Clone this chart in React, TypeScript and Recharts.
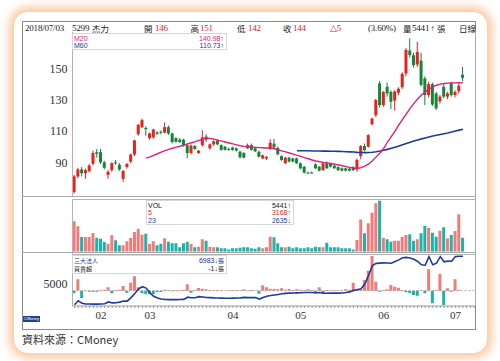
import React from "react"
import { ComposedChart, Bar, Line, XAxis, YAxis, Cell, ReferenceLine } from "recharts"

const RED = "#e3231f"
const GREEN = "#17843a"
const VOL_UP = "#f17b7b"
const VOL_DN = "#1eb2a8"
const M20_C = "#dc1f7c"
const M60_C = "#1d3b94"
const NAVY = "#1c3d9c"
const SERIF = "'Liberation Serif', 'DejaVu Serif', serif"
const CJK = "'Noto Sans CJK TC', 'Noto Sans', sans-serif"
const SANS = "'Liberation Sans', 'DejaVu Sans', sans-serif"

const monthTicks = [7, 20, 42, 60, 82, 101]
const monthLabels = ["02", "03", "04", "05", "06", "07"]
const priceTicks = [90, 110, 130, 150]
const holdTicks = [5000]

// daily candles, 2018/01/23 .. 2018/07/03
const opens = [71, 81, 85.5, 83, 84.5, 89, 96.5, 96.5, 90, 82,
  85, 90, 88.5, 79.5, 87, 90.5, 95, 108, 112.5, 112,
  105.5, 106, 109, 109.5, 109, 112.5, 108.5, 105.5, 104.5, 104.5,
  101, 96, 100.5, 96, 101, 106.5, 99, 101.5, 104, 101,
  100, 98.5, 99.5, 99, 96.8, 96, 101, 101, 99, 96.8,
  92.5, 92.5, 98.5, 102, 99.3, 94, 89.4, 93, 92.5, 92.5,
  89.4, 87.2, 83.5, 83.5, 88.7, 87.2, 85.1, 89.4, 89, 87.8,
  87, 86.2, 86.2, 86, 87, 85.5, 94, 100.4, 100, 114.4,
  120.2, 140.4, 126.6, 138.3, 135, 129.5, 134.5, 138, 146.8, 161.5,
  158.4, 152.5, 155, 143.6, 133, 140, 134, 129, 138.3, 132,
  140.4, 133, 135.5, 146]
const highs = [82, 86.5, 87, 86, 89, 97.5, 98.5, 98.5, 91, 85,
  90, 91.5, 89.5, 85, 89.5, 95.5, 104.5, 114.5, 118, 113,
  109, 111.5, 110, 110.5, 115.5, 113.5, 109, 106, 105.5, 105,
  102, 101.5, 101, 98, 110.5, 108, 102, 104, 104.5, 101.5,
  100.5, 99.5, 100, 99.5, 97.5, 96.5, 102, 102, 99.5, 97.5,
  95, 94, 104.7, 105, 100, 94.5, 93.5, 93.5, 93, 93,
  90, 87.8, 84, 84.2, 89.5, 87.8, 90, 90.5, 89.5, 88.3,
  87.5, 86.8, 86.6, 86.5, 87.5, 92.5, 101, 102, 108, 118.5,
  130.5, 142, 135.5, 141, 136, 136, 138, 147.5, 163, 169.2,
  160, 167, 160, 145, 141.5, 141, 135, 133, 140, 135,
  141.5, 136, 140.5, 151]
const lows = [70, 80, 81, 79.5, 83.5, 88, 93, 89, 85.5, 79.5,
  84, 88.5, 84.5, 77.5, 86, 89.5, 94, 107, 112, 107,
  104.5, 105, 107.5, 108, 108.5, 107.5, 102, 102.5, 102.5, 100,
  92.5, 95, 98, 95.5, 100, 103, 98, 100.5, 101, 97.5,
  97.5, 97.5, 97.5, 97, 92.5, 92.5, 98.5, 97.5, 96.5, 93,
  92, 91.5, 98, 99, 94.5, 91, 89, 90, 90, 89,
  85.5, 83, 82.5, 82.8, 85.8, 84.2, 84.5, 85.8, 86.8, 85.8,
  84.5, 84.2, 84.2, 84.3, 84.5, 84, 92, 97, 99.5, 113.5,
  119, 125, 125.5, 132, 124, 123, 133, 137, 145, 157,
  150.5, 151, 138.5, 126.6, 131.5, 126, 123.5, 127.5, 131, 130.5,
  132, 131.5, 134, 142]
const closes = [81, 85.5, 83, 85, 88, 96, 95.5, 90, 86.5, 84,
  89.5, 89.3, 85.5, 84.5, 89, 95, 104, 114, 117, 111.2,
  108.5, 111, 108.2, 109, 112.5, 108.5, 103, 103.2, 103, 100.7,
  96, 100.7, 98.5, 97.4, 106, 104.5, 101.5, 103.5, 101.5, 98,
  98, 98, 98, 97.5, 93.2, 93, 99, 98, 97, 93.6,
  94.5, 93.5, 102.5, 99.5, 95.1, 91.5, 93, 90.5, 90.5, 89.4,
  86.2, 83.4, 83, 83.2, 86.2, 84.7, 89.4, 86.2, 87.3, 86.2,
  85, 84.7, 84.7, 84.7, 85, 91.5, 100.4, 97.8, 107.4, 118,
  129.8, 126.6, 135, 134, 128.7, 135.3, 137, 146.6, 161.8, 158.6,
  152.2, 160.5, 139.5, 133, 140, 127, 124.5, 132, 132, 134,
  133, 135, 139, 144]

const m20 = [...Array(19).fill(null),
  92.7, 93.5, 94.5, 95.5, 96.6, 97.5, 98.3, 99, 99.7, 100.3,
  101, 101.8, 102.5, 103.2, 104, 104.8, 105.5, 105.3, 104.8, 104.2,
  103.6, 103, 102.4, 101.8, 101.2, 100.6, 100.2, 100, 99.8, 99.6,
  99.4, 99.3, 99.2, 99.3, 98.7, 98, 97.3, 96.7, 96, 95.3,
  94.5, 93.8, 93, 92.3, 91.5, 90.9, 90.4, 90, 89.7, 89.3,
  88.8, 88.3, 87.8, 87.3, 86.8, 86.4, 86.1, 86.6, 87.6, 89,
  91, 93.5, 96, 99, 103, 106.5, 110, 114, 117.5, 121,
  124.5, 127.7, 130.5, 133, 135, 136.8, 138.3, 139.3, 140, 140.4,
  140.6, 140.7, 140.8, 140.9, 140.98]
const m60 = [...Array(59).fill(null),
  97.4, 97.4, 97.4, 97.4, 97.3, 97.3, 97.3, 97.2, 97.2, 97.1,
  97.1, 97, 96.9, 96.8, 96.7, 96.6, 96.4, 96.3, 96.2, 96.3,
  96.5, 96.8, 97.2, 97.7, 98.3, 99, 99.7, 100.4, 101.2, 102,
  102.8, 103.6, 104.3, 105, 105.6, 106.2, 106.8, 107.3, 107.8, 108.3,
  108.8, 109.4, 110, 110.6, 111.2]

// volume (張)
const volumes = [11800, 9850, 5700, 5700, 5700, 7260, 5450, 5060, 3760, 3100,
  6350, 4410, 2460, 2460, 4020, 5310, 7650, 8950, 6610, 7000,
  3110, 4020, 2460, 3110, 5190, 3890, 3240, 3240, 1690, 3240,
  3890, 2980, 1690, 1950, 4800, 4280, 1950, 1690, 1690, 1300,
  1300, 900, 1300, 1300, 1560, 1690, 1690, 1300, 1170, 1690,
  1300, 1690, 5840, 5580, 3240, 1690, 1690, 1950, 1300, 1690,
  1300, 1300, 1690, 1300, 1950, 1690, 1690, 3500, 1690, 1690,
  1690, 1300, 1300, 1300, 900, 4540, 12570, 7130, 11020, 15170,
  18800, 19840, 5450, 4800, 3890, 4280, 4280, 5840, 6480, 6740,
  4280, 4800, 7130, 9990, 9340, 7390, 5840, 8170, 9470, 5190,
  6480, 8040, 14520, 5441]

// 三大法人 買賣超 (張) and holdings
const netBuy = [-80, 340, -220, 20, -30, -30, -30, 20, 30, 100,
  -80, 20, 30, 140, -60, 240, 430, 100, -80, -110,
  -110, -100, -50, -40, 30, 20, -20, 20, 10, 30,
  190, -60, 20, 80, 60, 40, 20, 10, 20, 10,
  0, 10, 20, 20, 10, 40, -20, 20, 10, -90,
  160, 100, 60, 50, 40, 70, 30, 50, 20, 40,
  30, 20, 40, 20, -60, 100, -80, 20, 10, 20,
  10, 20, 40, 30, 240, 60, 40, 320, 600, 1040,
  270, -30, 20, 40, 170, 120, 90, 20, -50, -80,
  -130, -150, 20, -80, 640, -380, 20, 500, -430, 70,
  -30, 340, 30, -1]
const holdings = [3430, 3720, 3530, 3480, 3480, 3470, 3470, 3480, 3500, 3630,
  3560, 3570, 3620, 3700, 3690, 3950, 4250, 4600, 4750, 4650,
  4300, 4050, 3920, 3850, 3820, 3800, 3800, 3800, 3810, 3820,
  3980, 3940, 3940, 4020, 3990, 3960, 3950, 3930, 3920, 3910,
  3900, 3900, 3910, 3920, 3930, 3970, 3950, 3960, 3950, 3840,
  3960, 4050, 4100, 4140, 4180, 4230, 4260, 4280, 4290, 4300,
  4310, 4320, 4330, 4320, 4290, 4320, 4270, 4270, 4280, 4280,
  4280, 4290, 4320, 4370, 4480, 4520, 4600, 4950, 5600, 6300,
  6460, 6480, 6500, 6490, 6470, 6600, 6720, 6880, 6900, 6860,
  6760, 6600, 6360, 6330, 6950, 6360, 6480, 6960, 6580, 6630,
  6620, 6960, 6980, 6983]

const rows = opens.map((o, i) => ({
  i, open: o, high: highs[i], low: lows[i], close: closes[i],
  range: [lows[i], highs[i]], m20: m20[i], m60: m60[i],
  vol: volumes[i], net: netBuy[i], hold: holdings[i],
}))

const X_DOMAIN: [number, number] = [-0.53, 106.2]
const dayTicks = Array.from({ length: 107 }, (_, k) => k)

function Candle(props: any) {
  const { x, y, width, height, payload } = props
  if (!payload) return null
  const { open, close, high, low } = payload
  const color = close >= open ? RED : GREEN
  const top = height < 0 ? y + height : y
  const h = Math.abs(height)
  const k = h / (high - low)
  const yo = top + (high - open) * k
  const yc = top + (high - close) * k
  const cx = x + width / 2
  return (
    <g>
      <line x1={cx} x2={cx} y1={top} y2={top + h} stroke={color} strokeWidth={1} />
      <rect x={x} y={Math.min(yo, yc)} width={width} height={Math.max(Math.abs(yo - yc), 1)} fill={color} />
    </g>
  )
}

const abs = (l: number, t: number, extra: React.CSSProperties = {}): React.CSSProperties => ({
  position: "absolute", left: l, top: t, whiteSpace: "nowrap", ...extra,
})

function Header() {
  const base = { fontSize: 9, lineHeight: "11px", color: "#222" }
  const num = { ...base, fontFamily: SERIF, letterSpacing: -0.2 }
  const cj = { ...base, fontFamily: CJK, fontSize: 8.5 }
  const t = 22.5
  return (
    <>
      <span style={abs(25, t, num)}>2018/07/03</span>
      <span style={abs(72, t, num)}>5299</span>
      <span style={abs(92, t, cj)}>杰力</span>
      <span style={abs(144, t, cj)}>開</span>
      <span style={abs(155, t, { ...num, color: RED })}>146</span>
      <span style={abs(190.5, t, cj)}>高</span>
      <span style={abs(200, t, { ...num, color: RED })}>151</span>
      <span style={abs(237, t, cj)}>低</span>
      <span style={abs(248, t, { ...num, color: RED })}>142</span>
      <span style={abs(283, t, cj)}>收</span>
      <span style={abs(293, t, { ...num, color: RED })}>144</span>
      <span style={abs(330, t, { ...num, color: RED })}>△5</span>
      <span style={abs(368, t, num)}>(3.60%)</span>
      <span style={abs(403, t, cj)}>量</span>
      <span style={abs(412, t, num)}>5441</span>
      <span style={abs(430.5, t, { ...num, fontFamily: SANS, fontSize: 8 })}>↑</span>
      <span style={abs(437, t, cj)}>張</span>
      <span style={abs(459, t, cj)}>日線</span>
    </>
  )
}

type Item = { left: string; right: string; unit?: string; color: string; rightColor?: string; cjk?: boolean }

function LegendBox({ l, t, w, h, rowH = 7.6, items }: { l: number; t: number; w: number; h: number; rowH?: number; items: Item[] }) {
  return (
    <div style={abs(l, t, { width: w, height: h, background: "#fff", border: "1px solid #d6d6d6", boxSizing: "border-box" })}>
      {items.map((it, k) => (
        <div key={k} style={{ position: "absolute", left: 1, right: 2, top: 0.5 + k * rowH, height: rowH, lineHeight: `${rowH}px`, fontSize: it.cjk ? 6 : 7, fontFamily: it.cjk ? CJK : SANS, color: it.color }}>
          <span>{it.left}</span>
          <span style={{ position: "absolute", right: 0, top: 0, color: it.rightColor ?? it.color, fontFamily: SANS, fontSize: 7 }}>
            {it.right}{it.unit && <span style={{ fontFamily: CJK, fontSize: 6 }}>{it.unit}</span>}
          </span>
        </div>
      ))}
    </div>
  )
}

export default function App() {
  return (
    <div style={{ position: "absolute", left: 0, top: 0, width: 500, height: 361, background: "#fff", overflow: "hidden" }}>
      {/* card with orange glow */}
      <div style={abs(14, 12, { width: 473, height: 341, borderRadius: 14, background: "#fff", boxShadow: "0 0 10px 5px rgba(247,160,95,0.6)" })} />
      {/* inner frame */}
      <div style={abs(22, 21, { width: 454, height: 309, border: "1px solid #8c8c8c", boxSizing: "border-box" })} />
      <div style={abs(23, 22, { width: 453, height: 11, overflow: "hidden" })}>
        <div style={{ position: "absolute", left: -23, top: -22, width: 500, height: 40 }}>
          <Header />
        </div>
      </div>

      {/* price panel */}
      <div style={abs(0, 0)}>
        <ComposedChart width={500} height={200} data={rows} margin={{ top: 32, right: 25, bottom: 4, left: 32.5 }}>
          <XAxis type="number" dataKey="i" domain={X_DOMAIN} allowDataOverflow ticks={monthTicks} tick={false}
            height={0} mirror tickSize={3} axisLine={{ stroke: "#9a9a9a" }} tickLine={{ stroke: "#9a9a9a" }} />
          <YAxis domain={[68.5, 173.3]} allowDataOverflow ticks={priceTicks} width={40} tickLine={false} tickSize={0} tickMargin={5}
            axisLine={{ stroke: "#cfa6ad" }} tick={{ fontSize: 12, fill: "#333", fontFamily: SERIF }} />
          <Bar dataKey="range" barSize={3} shape={(p: any) => <Candle {...p} />} isAnimationActive={false} />
          <Line dataKey="m60" stroke={M60_C} strokeWidth={1.6} dot={false} isAnimationActive={false} />
          <Line dataKey="m20" stroke={M20_C} strokeWidth={1.4} dot={false} isAnimationActive={false} />
        </ComposedChart>
      </div>

      {/* volume panel */}
      <div style={abs(0, 190)}>
        <ComposedChart width={500} height={70} data={rows} margin={{ top: 9.5, right: 25, bottom: 8.3, left: 72.5 }}>
          <XAxis type="number" dataKey="i" domain={X_DOMAIN} allowDataOverflow hide />
          <YAxis domain={[0, 20300]} allowDataOverflow hide />
          <Bar dataKey="vol" barSize={3} isAnimationActive={false}>
            {rows.map((r) => <Cell key={r.i} fill={r.close >= r.open ? VOL_UP : VOL_DN} />)}
          </Bar>
        </ComposedChart>
      </div>

      {/* institutional panel */}
      <div style={abs(0, 250)}>
        <ComposedChart width={500} height={80} data={rows} margin={{ top: 3.3, right: 25, bottom: 0, left: 32.5 }}>
          <XAxis type="number" dataKey="i" domain={X_DOMAIN} allowDataOverflow ticks={dayTicks} interval={0} height={24}
            tickSize={2} tickMargin={3} axisLine={{ stroke: "#9a9a9a" }} tickLine={{ stroke: "#9a9a9a" }}
            tick={{ fontSize: 11, fill: "#333", fontFamily: SERIF }}
            tickFormatter={(v: number) => { const k = monthTicks.indexOf(v); return k >= 0 ? monthLabels[k] : "" }} />
          <YAxis yAxisId="hold" domain={[3334, 7202]} allowDataOverflow ticks={holdTicks} width={40} tickLine={false} tickSize={0}
            tickMargin={5} axisLine={{ stroke: "#b0b0b0" }} tick={{ fontSize: 12, fill: "#333", fontFamily: SERIF }} />
          <YAxis yAxisId="net" domain={[-460, 1120]} allowDataOverflow hide />
          <ReferenceLine yAxisId="net" y={0} stroke="#aaa" strokeDasharray="2 2" />
          <Bar yAxisId="net" dataKey="net" barSize={3} isAnimationActive={false}>
            {rows.map((r) => <Cell key={r.i} fill={r.net >= 0 ? VOL_UP : VOL_DN} />)}
          </Bar>
          <Line yAxisId="hold" dataKey="hold" stroke={NAVY} strokeWidth={1.6} dot={false} isAnimationActive={false} />
        </ComposedChart>
      </div>

      {/* panel frames */}
      <svg width={500} height={361} style={{ position: "absolute", left: 0, top: 0, pointerEvents: "none" }}>
        <line x1={22} x2={476} y1={196.5} y2={196.5} stroke="#a8a8a8" />
        <line x1={22} x2={476} y1={252.5} y2={252.5} stroke="#a8a8a8" />
        <line x1={72.5} x2={475.5} y1={199.5} y2={199.5} stroke="#b4b4b4" />
        <line x1={72.5} x2={72.5} y1={199.5} y2={252} stroke="#b4b4b4" />
        <line x1={72.5} x2={475.5} y1={254.5} y2={254.5} stroke="#b4b4b4" />
        <line x1={475.5} x2={475.5} y1={32} y2={306} stroke="#a8a8a8" />
      </svg>

      <LegendBox l={72} t={33} w={155} h={17} items={[
        { left: "M20", right: "140.98↑", color: M20_C },
        { left: "M60", right: "110.73↑", color: M60_C },
      ]} />
      <LegendBox l={146} t={200} w={148} h={25} items={[
        { left: "VOL", right: "5441↑", color: "#222" },
        { left: "5", right: "3168↑", color: RED },
        { left: "23", right: "2635↓", color: M60_C },
      ]} />
      <LegendBox l={72} t={255} w={155} h={19} rowH={8.8} items={[
        { left: "三大法人", right: "6983↓", unit: "張", color: M60_C, cjk: true },
        { left: "買賣超", right: "-1↓", unit: "張", color: "#222", cjk: true },
      ]} />

      <div style={abs(23, 316, { width: 17, height: 6, background: "#24428f", color: "#fff", fontSize: 4, lineHeight: "6px", fontFamily: SANS, textAlign: "center" })}>CMoney</div>
      <div style={abs(22, 332, { fontSize: 11, lineHeight: "15px", color: "#333", fontFamily: CJK })}>資料來源：CMoney</div>
    </div>
  )
}
